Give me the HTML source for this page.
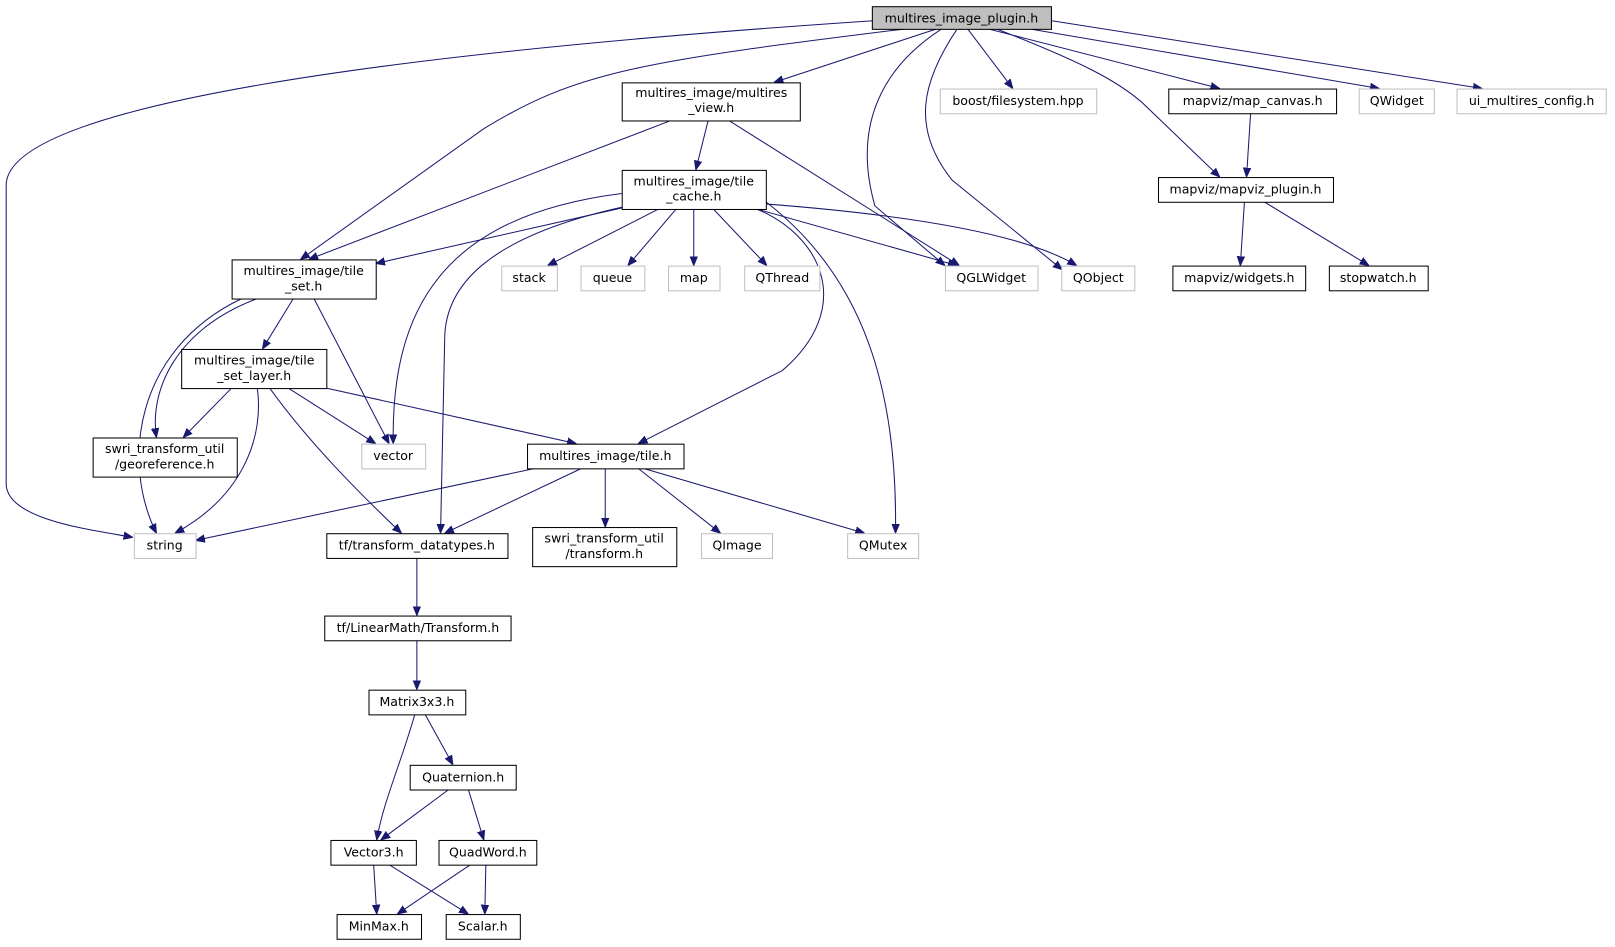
<!DOCTYPE html>
<html><head><meta charset="utf-8"><style>
html,body{margin:0;padding:0;background:#fff;}
svg{display:block;}
text{font-family:"DejaVu Sans","Liberation Sans",sans-serif;font-size:12.2px;text-anchor:middle;fill:#000;}
.b{fill:#fff;stroke:#000;stroke-width:1;}
.g{fill:#fff;stroke:#bfbfbf;stroke-width:1;}
.g2{fill:#bfbfbf;stroke:#000;stroke-width:1;}
.e{fill:none;stroke:#191970;stroke-width:1;marker-end:url(#a);}
</style></head><body>
<svg width="1615" height="947" viewBox="0 0 1569 920" xmlns="http://www.w3.org/2000/svg">
<defs><marker id="a" viewBox="0 0 10 10" refX="10" refY="5" markerWidth="9" markerHeight="9" orient="auto" markerUnits="userSpaceOnUse"><path d="M0,1 L10,5 L0,9 z" fill="#191970" stroke="#191970"/></marker></defs>

<path class="e" d="M850,20 C400,50 6,100 6,180 L6,470 C6,505 90,515 129,522"/>
<path class="e" d="M880,28 C620,60 560,70 470,125 L292,252"/>
<path class="e" d="M910,28 L752,80"/>
<path class="e" d="M915,28 C850,70 830,130 850,200 L918,258"/>
<path class="e" d="M930,28 C895,80 885,125 925,175 L1032,262"/>
<path class="e" d="M940,28 L984,86"/>
<path class="e" d="M960,28 L1185,86"/>
<path class="e" d="M968,28 C1050,60 1085,78 1110,100 L1185,172"/>
<path class="e" d="M1000,28 L1340,86"/>
<path class="e" d="M1021,20 L1440,86"/>
<path class="e" d="M652,117 L300,252"/>
<path class="e" d="M688,117 L676,165"/>
<path class="e" d="M708,117 L932,258"/>
<path class="e" d="M1215,110 L1211,172"/>
<path class="e" d="M1209,196 L1205,258"/>
<path class="e" d="M1228,196 L1330,258"/>
<path class="e" d="M604,202 L365,256"/>
<path class="e" d="M604,188 C430,210 380,300 382,431"/>
<path class="e" d="M610,200 C470,230 432,280 432,330 L428,518"/>
<path class="e" d="M640,203 L532,258"/>
<path class="e" d="M657,203 L610,258"/>
<path class="e" d="M674,203 L674,258"/>
<path class="e" d="M693,203 L745,258"/>
<path class="e" d="M735,203 L930,258"/>
<path class="e" d="M742,198 C900,210 1000,230 1046,258"/>
<path class="e" d="M735,203 C800,230 830,300 760,360 L620,431"/>
<path class="e" d="M744,196 C840,270 872,380 870,518"/>
<path class="e" d="M235,290 C130,340 118,450 152,518"/>
<path class="e" d="M250,290 C170,320 145,380 152,425"/>
<path class="e" d="M285,290 L255,339"/>
<path class="e" d="M305,290 L378,431"/>
<path class="e" d="M225,377 L178,425"/>
<path class="e" d="M280,377 L365,431"/>
<path class="e" d="M317,377 L560,431"/>
<path class="e" d="M250,377 C256,420 240,480 170,518"/>
<path class="e" d="M262,377 C300,430 350,480 390,518"/>
<path class="e" d="M520,455 L190,525"/>
<path class="e" d="M565,455 L432,518"/>
<path class="e" d="M588,455 L588,512"/>
<path class="e" d="M620,455 L700,518"/>
<path class="e" d="M625,455 L840,518"/>
<path class="e" d="M405,542 L405,598"/>
<path class="e" d="M405,622 L405,670"/>
<path class="e" d="M403,694 C390,740 372,780 366,816"/>
<path class="e" d="M413,694 L440,743"/>
<path class="e" d="M436,767 L370,816"/>
<path class="e" d="M455,767 L470,816"/>
<path class="e" d="M363,840 L366,888"/>
<path class="e" d="M378,840 L455,888"/>
<path class="e" d="M457,840 L386,888"/>
<path class="e" d="M472,840 L471,888"/>

<rect class="g2" x="847.5" y="6.5" width="174" height="22"/><text x="934" y="22">multires_image_plugin.h</text>
<rect class="b" x="604.5" y="80.5" width="173" height="37"/><text x="691" y="94">multires_image/multires</text><text x="691" y="109">_view.h</text>
<rect class="g" x="913.5" y="86.5" width="152" height="24"/><text x="989" y="102">boost/filesystem.hpp</text>
<rect class="b" x="1135.5" y="86.5" width="163" height="24"/><text x="1217" y="102">mapviz/map_canvas.h</text>
<rect class="g" x="1320.5" y="86.5" width="73" height="24"/><text x="1357" y="102">QWidget</text>
<rect class="g" x="1415.5" y="86.5" width="145" height="24"/><text x="1488" y="102">ui_multires_config.h</text>
<rect class="b" x="604.5" y="165.5" width="140" height="38"/><text x="674" y="180">multires_image/tile</text><text x="674" y="195">_cache.h</text>
<rect class="b" x="1125.5" y="172.5" width="170" height="24"/><text x="1210" y="188">mapviz/mapviz_plugin.h</text>
<rect class="b" x="225.5" y="252.5" width="140" height="38"/><text x="295" y="267">multires_image/tile</text><text x="295" y="282">_set.h</text>
<rect class="g" x="487.5" y="258.5" width="54" height="24"/><text x="514" y="274">stack</text>
<rect class="g" x="564.5" y="258.5" width="62" height="24"/><text x="595" y="274">queue</text>
<rect class="g" x="649.5" y="258.5" width="50" height="24"/><text x="674" y="274">map</text>
<rect class="g" x="723.5" y="258.5" width="73" height="24"/><text x="760" y="274">QThread</text>
<rect class="g" x="918.5" y="258.5" width="90" height="24"/><text x="963" y="274">QGLWidget</text>
<rect class="g" x="1031.5" y="258.5" width="71" height="24"/><text x="1067" y="274">QObject</text>
<rect class="b" x="1139.5" y="258.5" width="129" height="24"/><text x="1204" y="274">mapviz/widgets.h</text>
<rect class="b" x="1291.5" y="258.5" width="96" height="24"/><text x="1339" y="274">stopwatch.h</text>
<rect class="b" x="176.5" y="339.5" width="141" height="38"/><text x="247" y="354">multires_image/tile</text><text x="247" y="369">_set_layer.h</text>
<rect class="b" x="90.5" y="425.5" width="140" height="38"/><text x="160" y="440">swri_transform_util</text><text x="160" y="455">/georeference.h</text>
<rect class="g" x="351.5" y="431.5" width="62" height="24"/><text x="382" y="447">vector</text>
<rect class="b" x="512.5" y="431.5" width="152" height="24"/><text x="588" y="447">multires_image/tile.h</text>
<rect class="g" x="130.5" y="518.5" width="60" height="24"/><text x="160" y="534">string</text>
<rect class="b" x="317.5" y="518.5" width="176" height="24"/><text x="405" y="534">tf/transform_datatypes.h</text>
<rect class="b" x="517.5" y="512.5" width="140" height="38"/><text x="587" y="527">swri_transform_util</text><text x="587" y="542">/transform.h</text>
<rect class="g" x="681.5" y="518.5" width="69" height="24"/><text x="716" y="534">QImage</text>
<rect class="g" x="823.5" y="518.5" width="69" height="24"/><text x="858" y="534">QMutex</text>
<rect class="b" x="315.5" y="598.5" width="181" height="24"/><text x="406" y="614">tf/LinearMath/Transform.h</text>
<rect class="b" x="358.5" y="670.5" width="94" height="24"/><text x="405" y="686">Matrix3x3.h</text>
<rect class="b" x="398.5" y="743.5" width="103" height="24"/><text x="450" y="759">Quaternion.h</text>
<rect class="b" x="321.5" y="816.5" width="83" height="24"/><text x="363" y="832">Vector3.h</text>
<rect class="b" x="426.5" y="816.5" width="95" height="24"/><text x="474" y="832">QuadWord.h</text>
<rect class="b" x="327.5" y="888.5" width="82" height="24"/><text x="368" y="904">MinMax.h</text>
<rect class="b" x="433.5" y="888.5" width="72" height="24"/><text x="469" y="904">Scalar.h</text>
</svg>
</body></html>
